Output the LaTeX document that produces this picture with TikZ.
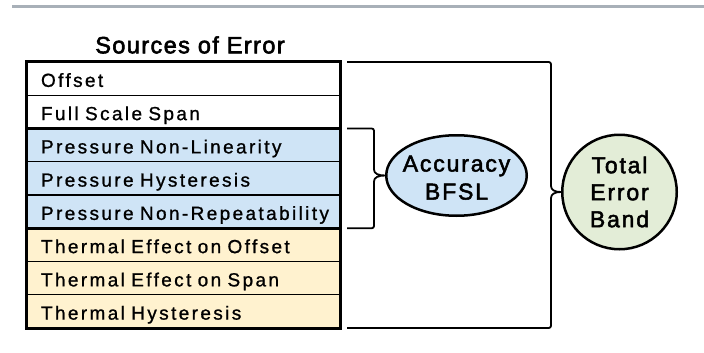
\documentclass[tikz,border=0pt]{standalone}
\usepackage{fontspec}
\usetikzlibrary{shapes.geometric,calc}
\setmainfont{Liberation Sans}
\newfontfamily\rowfont[LetterSpace=12.5,FakeBold=1]{Liberation Sans}
\newfontfamily\titlefont[LetterSpace=6,FakeBold=2.5]{Liberation Sans}
\newfontfamily\ovalfont[LetterSpace=8,FakeBold=2.2]{Liberation Sans}
\definecolor{rowblue}{RGB}{207,228,246}
\definecolor{rowyellow}{RGB}{255,242,207}
\definecolor{totgreen}{RGB}{227,237,215}
\definecolor{toplinec}{RGB}{168,176,184}
\tikzset{
  rowbox/.style={draw, line width=1.3pt, minimum width=314pt, minimum height=33.25pt,
    text width=284pt, inner xsep=15pt, inner ysep=0pt, outer sep=0pt, align=left,
    text height=16.5pt, text depth=0pt, anchor=north west,
    font=\rowfont\fontsize{19}{22}\selectfont},
  grp/.style={draw, line width=3pt},
  brace/.style={draw, line width=1.8pt, line join=round},
  oval/.style={draw, line width=2.5pt, inner sep=0pt, align=center,
    font=\ovalfont\fontsize{23}{27}\selectfont},
}
\begin{document}
\begin{tikzpicture}[x=1pt,y=-1pt]
\useasboundingbox (0,0) rectangle (704,353);
\draw[color=toplinec, line width=3pt] (12,6.7) -- (704,6.7);
\node[anchor=base, inner sep=0pt, font=\titlefont\fontsize{23.5}{28}\selectfont] (title) at (190,53.3) {Sources of Error};
% rows
\node[rowbox, fill=white] (r1) at (26,62) {\mbox{Offset}};
\node[rowbox, fill=white] (r2) at (r1.south west) {\mbox{Full Scale Span}};
\node[rowbox, fill=rowblue] (r3) at (r2.south west) {\mbox{Pressure Non-Linearity}};
\node[rowbox, fill=rowblue] (r4) at (r3.south west) {\mbox{Pressure Hysteresis}};
\node[rowbox, fill=rowblue] (r5) at (r4.south west) {\mbox{Pressure Non-Repeatability}};
\node[rowbox, fill=rowyellow] (r6) at (r5.south west) {\mbox{Thermal Effect on Offset}};
\node[rowbox, fill=rowyellow] (r7) at (r6.south west) {\mbox{Thermal Effect on Span}};
\node[rowbox, fill=rowyellow] (r8) at (r7.south west) {\mbox{Thermal Hysteresis}};
\draw[grp] (r1.north west) rectangle (r2.south east);
\draw[grp] (r3.north west) rectangle (r5.south east);
\draw[grp] (r6.north west) rectangle (r8.south east);
% ovals
\node[oval, ellipse, fill=rowblue, minimum width=140.5pt, minimum height=80.5pt,
  label={[font=\ovalfont\fontsize{23}{28}\selectfont, align=center, yshift=-2.25pt]center:{Accuracy\\BFSL}}] (acc) at (456.5,175.5) {};
\node[oval, circle, fill=totgreen, minimum size=114.5pt] (tot) at (619.5,192) {Total\\Error\\Band};
% brace connectors
\coordinate (ia) at ($(r3.north east)+(7,0)$);
\coordinate (ib) at ($(r5.south east)+(7,0)$);
\coordinate (oa) at ($(r1.north east)+(7,0)$);
\coordinate (ob) at ($(r8.south east)+(7,0)$);
\draw[brace] (ia) -- (369,128.5) .. controls (374,128.5) .. (374,133.5) -- (374,169.5)
  .. controls (374,173.5) and (378,175.5) .. (acc.west)
  .. controls (378,175.5) and (374,177.5) .. (374,181.5) -- (374,223.25)
  .. controls (374,228.25) .. (369,228.25) -- (ib);
\draw[brace] (oa) -- (546,62) .. controls (551,62) .. (551,67) -- (551,186)
  .. controls (551,190) and (555,192) .. (tot.west)
  .. controls (555,192) and (551,194) .. (551,198) -- (551,323)
  .. controls (551,328) .. (546,328) -- (ob);
\end{tikzpicture}
\end{document}
